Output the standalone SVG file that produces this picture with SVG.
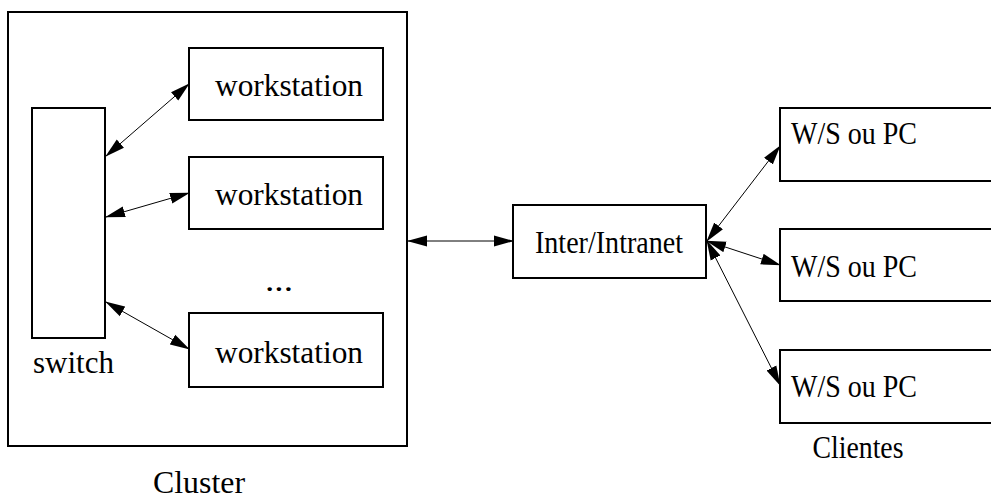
<svg xmlns="http://www.w3.org/2000/svg" width="991" height="499" viewBox="0 0 991 499">
<style>
.box{fill:#fff;stroke:#000;stroke-width:2}
.lbl{font-family:"Liberation Serif","Times New Roman",serif;font-size:32px;fill:#000;text-anchor:middle}
.con{stroke:#000;stroke-width:1;fill:none;marker-start:url(#ah);marker-end:url(#ah)}
</style>
<defs>
<marker id="ah" markerUnits="userSpaceOnUse" markerWidth="20" markerHeight="12" viewBox="0 0 20 12" refX="19" refY="6" orient="auto-start-reverse">
<path d="M0,0.5 L20,6 L0,11.5 Z" fill="#000"/>
</marker>
</defs>
<rect width="991" height="499" fill="#fff"/>
<g id="cluster">
<rect class="box" x="8" y="12" width="399" height="434"/>
<text class="lbl" x="199" y="493" textLength="92" lengthAdjust="spacingAndGlyphs">Cluster</text>
</g>
<g id="switch">
<rect class="box" x="32" y="108" width="73" height="230"/>
<text class="lbl" x="73.5" y="373" textLength="81" lengthAdjust="spacingAndGlyphs">switch</text>
</g>
<g id="ws1">
<rect class="box" x="189" y="48" width="194" height="72"/>
<text class="lbl" x="289" y="96" textLength="148" lengthAdjust="spacingAndGlyphs">workstation</text>
</g>
<g id="ws2">
<rect class="box" x="189" y="157" width="194" height="72"/>
<text class="lbl" x="289" y="205" textLength="148" lengthAdjust="spacingAndGlyphs">workstation</text>
</g>
<g id="dots">
<text class="lbl" x="279" y="291" textLength="28" lengthAdjust="spacingAndGlyphs">...</text>
</g>
<g id="ws3">
<rect class="box" x="189" y="313" width="194" height="74"/>
<text class="lbl" x="289" y="363" textLength="148" lengthAdjust="spacingAndGlyphs">workstation</text>
</g>
<g id="inter">
<rect class="box" x="513" y="205" width="193" height="73"/>
<text class="lbl" x="609" y="253" textLength="148" lengthAdjust="spacingAndGlyphs">Inter/Intranet</text>
</g>
<g id="c1">
<rect class="box" x="780" y="108" width="230" height="73"/>
<text class="lbl" x="854" y="144" textLength="126" lengthAdjust="spacingAndGlyphs">W/S ou PC</text>
</g>
<g id="c2">
<rect class="box" x="780" y="229" width="230" height="72"/>
<text class="lbl" x="854" y="277" textLength="126" lengthAdjust="spacingAndGlyphs">W/S ou PC</text>
</g>
<g id="c3">
<rect class="box" x="780" y="350" width="230" height="73"/>
<text class="lbl" x="854" y="397" textLength="126" lengthAdjust="spacingAndGlyphs">W/S ou PC</text>
</g>
<g id="clientes">
<text class="lbl" x="858" y="458" textLength="91" lengthAdjust="spacingAndGlyphs">Clientes</text>
</g>
<g id="connectors">
<line class="con" x1="106" y1="156" x2="189" y2="84"/>
<line class="con" x1="106" y1="217" x2="189" y2="193"/>
<line class="con" x1="106" y1="302" x2="189" y2="349"/>
<line class="con" x1="408" y1="241" x2="513" y2="241"/>
<line class="con" x1="707" y1="241" x2="780" y2="146"/>
<line class="con" x1="707" y1="241" x2="780" y2="265"/>
<line class="con" x1="707" y1="241" x2="780" y2="385"/>
</g>
</svg>
